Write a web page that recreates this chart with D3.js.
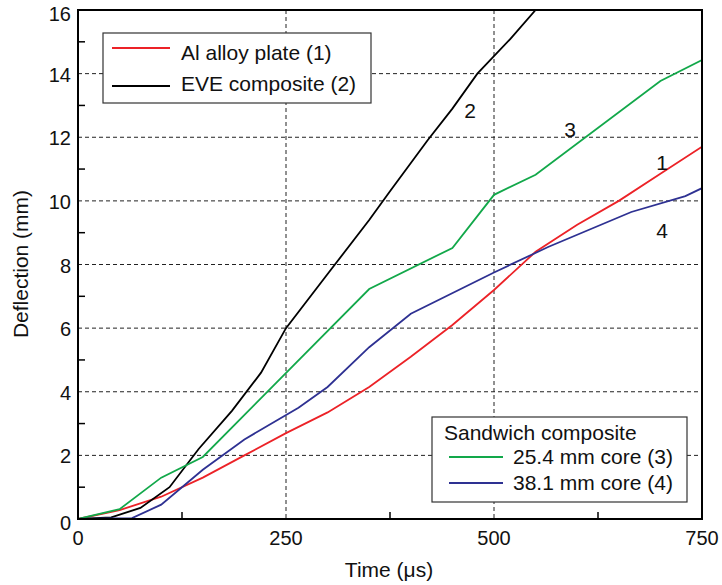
<!DOCTYPE html>
<html>
<head>
<meta charset="utf-8">
<script src="https://cdn.jsdelivr.net/npm/d3@7"></script>
<style>
  body { margin: 0; background: #fff; }
  text { font-family: "Liberation Sans", Arial, sans-serif; fill: #111; }
</style>
</head>
<body>
<svg width="722" height="585"></svg>
<script>
// time (µs) and deflection (mm)
const alTime = [0, 50, 100, 150, 200, 250, 300, 350, 400, 450, 500, 550, 600, 650, 700, 750]
const alDefl = [0, 0.28, 0.7, 1.3, 2.0, 2.7, 3.35, 4.15, 5.1, 6.1, 7.2, 8.4, 9.25, 10.0, 10.85, 11.7]

const eveTime = [0, 40, 75, 110, 145, 185, 220, 250, 300, 350, 375, 420, 450, 480, 520, 550]
const eveDefl = [0, 0.05, 0.35, 1.0, 2.2, 3.4, 4.6, 6.0, 7.7, 9.4, 10.3, 11.9, 12.9, 14.0, 15.1, 16.0]

const core254Time = [0, 50, 100, 150, 350, 450, 500, 550, 700, 750]
const core254Defl = [0, 0.31, 1.3, 1.95, 7.23, 8.52, 10.19, 10.82, 13.77, 14.43]

const core381Time = [0, 65, 100, 150, 200, 265, 300, 350, 400, 500, 565, 665, 730, 750]
const core381Defl = [0, 0.03, 0.45, 1.55, 2.5, 3.5, 4.15, 5.4, 6.45, 7.75, 8.55, 9.65, 10.15, 10.4]

const xTicks = [0, 250, 500, 750]
const xMinor = [125, 375, 625]
const yTicks = [0, 2, 4, 6, 8, 10, 12, 14, 16]
const yMinor = [1, 3, 5, 7, 9, 11, 13, 15]

const series = [
  { time: alTime, defl: alDefl, color: '#ec2227', label: 'Al alloy plate (1)', tag: '1', tagAt: [662, 170] },
  { time: eveTime, defl: eveDefl, color: '#000000', label: 'EVE composite (2)', tag: '2', tagAt: [470, 118] },
  { time: core254Time, defl: core254Defl, color: '#12a84a', label: '25.4 mm core (3)', tag: '3', tagAt: [570, 137] },
  { time: core381Time, defl: core381Defl, color: '#2e3192', label: '38.1 mm core (4)', tag: '4', tagAt: [662, 238] },
]

const plotL = 78, plotR = 702, plotT = 10, plotB = 519
const svg = d3.select('svg')

const x = d3.scaleLinear().domain([0, 750]).range([plotL, plotR])
const y = d3.scaleLinear().domain([0, 16]).range([plotB, plotT])

// dashed grid
svg.append('g').selectAll('line')
  .data(xTicks.filter(d => d > 0 && d < 750))
  .enter().append('line')
  .attr('x1', d => x(d)).attr('x2', d => x(d))
  .attr('y1', plotT).attr('y2', plotB)
  .attr('stroke', '#222').attr('stroke-width', 1).attr('stroke-dasharray', '4,3')

svg.append('g').selectAll('line')
  .data(yTicks.filter(d => d > 0 && d < 16))
  .enter().append('line')
  .attr('x1', plotL).attr('x2', plotR)
  .attr('y1', d => y(d)).attr('y2', d => y(d))
  .attr('stroke', '#222').attr('stroke-width', 1).attr('stroke-dasharray', '4,3')

// minor ticks, pointing inward
svg.append('g').selectAll('line')
  .data(yMinor).enter().append('line')
  .attr('x1', plotL).attr('x2', plotL + 7)
  .attr('y1', d => y(d)).attr('y2', d => y(d))
  .attr('stroke', '#000').attr('stroke-width', 1.5)

svg.append('g').selectAll('line')
  .data(xMinor).enter().append('line')
  .attr('x1', d => x(d)).attr('x2', d => x(d))
  .attr('y1', plotB).attr('y2', plotB - 7)
  .attr('stroke', '#000').attr('stroke-width', 1.5)

// data lines
svg.append('clipPath').attr('id', 'plot')
  .append('rect').attr('x', plotL).attr('y', plotT).attr('width', plotR - plotL).attr('height', plotB - plotT)

const line = d3.line().x(d => x(d[0])).y(d => y(d[1]))
series.forEach(s => {
  svg.append('path')
    .datum(s.time.map((t, i) => [t, s.defl[i]]))
    .attr('clip-path', 'url(#plot)')
    .attr('fill', 'none')
    .attr('stroke', s.color)
    .attr('stroke-width', 1.8)
    .attr('d', line)
  svg.append('text')
    .attr('x', s.tagAt[0]).attr('y', s.tagAt[1])
    .attr('text-anchor', 'middle')
    .attr('font-size', 21)
    .text(s.tag)
})

// frame
svg.append('rect')
  .attr('x', plotL).attr('y', plotT).attr('width', plotR - plotL).attr('height', plotB - plotT)
  .attr('fill', 'none').attr('stroke', '#000').attr('stroke-width', 2)

// tick labels
svg.append('g').selectAll('text')
  .data(yTicks).enter().append('text')
  .attr('x', plotL - 7)
  .attr('y', d => y(d) + (d === 0 || d === 16 ? 11 : 8))
  .attr('text-anchor', 'end').attr('font-size', 20)
  .text(d => d)

svg.append('g').selectAll('text')
  .data(xTicks).enter().append('text')
  .attr('x', d => x(d)).attr('y', 545)
  .attr('text-anchor', 'middle').attr('font-size', 20)
  .text(d => d)

svg.append('text')
  .attr('x', 389).attr('y', 577)
  .attr('text-anchor', 'middle').attr('font-size', 21)
  .text('Time (\u03bcs)')

svg.append('text')
  .attr('transform', 'translate(28,264) rotate(-90)')
  .attr('text-anchor', 'middle').attr('font-size', 21)
  .text('Deflection (mm)')

// legend, top left
const leg1 = svg.append('g')
leg1.append('rect').attr('x', 103).attr('y', 33).attr('width', 268).attr('height', 70)
  .attr('fill', '#fff').attr('stroke', '#333').attr('stroke-width', 1.2)
series.slice(0, 2).forEach((s, i) => {
  const ly = 48 + i * 38
  leg1.append('line').attr('x1', 112).attr('x2', 170).attr('y1', ly).attr('y2', ly)
    .attr('stroke', s.color).attr('stroke-width', 1.8)
  leg1.append('text').attr('x', 181).attr('y', 60 + i * 31).attr('font-size', 21).text(s.label)
})

// legend, bottom right
const leg2 = svg.append('g')
leg2.append('rect').attr('x', 432).attr('y', 417).attr('width', 255).attr('height', 85)
  .attr('fill', '#fff').attr('stroke', '#333').attr('stroke-width', 1.2)
leg2.append('text').attr('x', 444).attr('y', 440).attr('font-size', 21).text('Sandwich composite')
series.slice(2).forEach((s, i) => {
  const ly = 457 + i * 26
  leg2.append('line').attr('x1', 449).attr('x2', 503).attr('y1', ly).attr('y2', ly)
    .attr('stroke', s.color).attr('stroke-width', 1.8)
  leg2.append('text').attr('x', 513).attr('y', 464 + i * 26).attr('font-size', 21).text(s.label)
})
</script>
</body>
</html>
